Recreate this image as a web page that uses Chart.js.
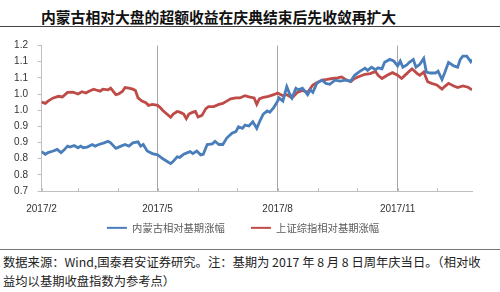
<!DOCTYPE html>
<html>
<head>
<meta charset="utf-8">
<script src="https://cdn.jsdelivr.net/npm/chart.js@4.4.0/dist/chart.umd.min.js"></script>
<style>
  body { margin: 0; width: 500px; height: 292px; background: #fff; position: relative; overflow: hidden; font-family: "Noto Sans CJK SC", sans-serif; }
  #title { position: absolute; left: 41px; top: 9px; font-size: 14.8px; line-height: 15px; font-weight: bold; color: #111; white-space: nowrap; }
  .rule { position: absolute; left: 0; width: 500px; }
  #chartBox { position: absolute; left: 0; top: 30px; width: 500px; height: 213px; }
  #note { position: absolute; left: 3px; top: 253px; font-size: 12.3px; line-height: 18.5px; color: #222; white-space: nowrap; }
</style>
</head>
<body>
<div id="title">内蒙古相对大盘的超额收益在庆典结束后先收敛再扩大</div>
<div class="rule" style="top:26px;height:1.4px;background:#444;"></div>
<div id="chartBox"><canvas id="chart"></canvas></div>
<div class="rule" style="top:248.5px;height:1px;background:#777;"></div>
<div id="note">数据来源：Wind,国泰君安证券研究。注：基期为 2017 年 8 月 8 日周年庆当日。（相对收<br>益均以基期收盘指数为参考点）</div>
<script>
// x values are days counted from 2017/2/1
const monthDays = [0, 28, 59, 89, 120, 150, 181, 212, 242, 273, 303];
const majorDays = [0, 89, 181, 273];
const majorLabels = ["2017/2", "2017/5", "2017/8", "2017/11"];
const yTicks = [0.75, 0.8, 0.85, 0.9, 0.95, 1.0, 1.05, 1.1, 1.15, 1.2];
const yTickLabels = ["0.7", "0.8", "0.8", "0.9", "0.9", "1.0", "1.0", "1.1", "1.1", "1.2"];

const mengDays = [0,3,5,9,12,15,17,20,22,25,28,30,32,35,39,41,44,48,51,53,57,61,64,67,70,74,76,78,81,85,
  89,91,93,97,99,101,104,106,109,112,114,116,119,122,124,127,131,133,136,139,142,146,149,151,154,156,159,162,165,168,
  170,173,175,178,181,182,185,186,188,190,192,195,197,200,202,204,206,208,211,215,218,221,225,229,233,237,240,244,248,250,
  253,256,258,261,263,267,270,273,275,277,280,282,285,287,290,293,295,298,302,304,307,309,312,316,319,321,323,326,329,330];
const mengValues = [0.872,0.864,0.869,0.874,0.879,0.869,0.876,0.889,0.886,0.891,0.884,0.889,0.884,0.886,0.894,0.889,0.894,0.899,0.904,0.899,0.882,0.889,0.894,0.889,0.899,0.902,0.889,0.894,0.874,0.866,
  0.862,0.856,0.850,0.840,0.835,0.842,0.856,0.854,0.864,0.869,0.872,0.866,0.874,0.862,0.864,0.894,0.896,0.904,0.894,0.894,0.914,0.929,0.934,0.949,0.944,0.954,0.951,0.964,0.944,0.972,
  0.988,0.998,0.994,1.008,1.028,1.038,1.028,1.043,1.073,1.053,1.038,1.068,1.063,1.068,1.058,1.048,1.063,1.055,1.083,1.093,1.083,1.080,1.093,1.090,1.093,1.090,1.108,1.120,1.130,1.123,
  1.133,1.125,1.131,1.128,1.148,1.157,1.152,1.137,1.152,1.133,1.140,1.148,1.157,1.133,1.142,1.160,1.118,1.115,1.115,1.121,1.095,1.115,1.148,1.137,1.133,1.157,1.167,1.167,1.150,1.157];

const shDays = [0,3,5,9,13,16,18,20,24,26,28,31,34,36,40,43,45,47,51,53,57,59,62,64,67,70,72,74,77,80,
  82,85,89,91,93,97,99,101,104,106,109,111,113,116,118,120,123,126,128,132,136,139,142,145,149,152,156,159,163,165,
  167,170,174,178,181,185,188,192,196,200,204,208,211,215,219,223,227,230,234,237,240,244,248,252,256,258,261,265,269,273,
  276,280,284,288,290,293,296,299,303,307,309,312,316,319,323,327,330];
const shValues = [1.025,1.021,1.028,1.038,1.043,1.041,1.048,1.055,1.056,1.053,1.050,1.057,1.053,1.058,1.065,1.061,1.059,1.065,1.063,1.068,1.048,1.050,1.058,1.070,1.068,1.065,1.061,1.038,1.028,1.023,
  1.015,1.018,1.015,1.008,0.999,0.985,0.978,0.988,0.996,0.994,0.988,0.974,0.988,0.994,0.996,0.979,0.984,1.005,1.011,1.011,1.018,1.021,1.028,1.035,1.038,1.038,1.045,1.041,1.038,1.018,
  1.035,1.040,1.043,1.048,1.053,1.045,1.048,1.038,1.055,1.061,1.055,1.078,1.085,1.093,1.095,1.098,1.100,1.103,1.093,1.088,1.098,1.105,1.111,1.113,1.120,1.108,1.098,1.108,1.116,1.108,
  1.098,1.113,1.128,1.113,1.108,1.118,1.088,1.083,1.078,1.065,1.073,1.083,1.075,1.070,1.075,1.071,1.063];

const toPoints = (xs, ys) => xs.map((x, i) => ({ x: x, y: ys[i] }));

// small inward month ticks on the x axis
const monthTickPlugin = {
  id: "monthTicks",
  afterDraw(chart) {
    const xScale = chart.scales.x;
    const ctx = chart.ctx;
    const bottom = chart.chartArea.bottom;
    ctx.save();
    ctx.strokeStyle = "#bfbfbf";
    ctx.lineWidth = 1;
    monthDays.forEach((d) => {
      const px = Math.round(xScale.getPixelForValue(d)) + 0.5;
      ctx.beginPath();
      ctx.moveTo(px, bottom);
      ctx.lineTo(px, bottom - 3);
      ctx.stroke();
    });
    ctx.restore();
  }
};

new Chart(document.getElementById("chart"), {
  type: "line",
  data: {
    datasets: [
      {
        label: "内蒙古相对基期涨幅",
        data: toPoints(mengDays, mengValues),
        borderColor: "#4a7ebb",
        backgroundColor: "#4a7ebb",
        borderWidth: 2.8,
        pointRadius: 0,
        tension: 0
      },
      {
        label: "上证综指相对基期涨幅",
        data: toPoints(shDays, shValues),
        borderColor: "#be4b48",
        backgroundColor: "#be4b48",
        borderWidth: 2.8,
        pointRadius: 0,
        tension: 0
      }
    ]
  },
  options: {
    responsive: true,
    maintainAspectRatio: false,
    animation: false,
    layout: { padding: { top: 10.7, right: 28, left: 14, bottom: 0 } },
    plugins: {
      tooltip: { enabled: false },
      legend: {
        position: "bottom",
        labels: {
          boxWidth: 20,
          boxHeight: 2,
          padding: 5.6,
          color: "#595959",
          font: { family: "Noto Sans CJK SC", size: 10.3 },
          generateLabels: (chart) => {
            const items = Chart.defaults.plugins.legend.labels.generateLabels(chart);
            // wider gap between the two legend entries
            items[0].text = items[0].text + "\u3000\u3000";
            items.forEach((item) => { item.lineWidth = 0; });
            return items;
          }
        }
      }
    },
    scales: {
      x: {
        type: "linear",
        min: 0,
        max: 330,
        afterBuildTicks: (scale) => { scale.ticks = monthDays.map((v) => ({ value: v })); },
        afterFit: (scale) => { scale.height = 26; },
        border: { display: true, color: "#bfbfbf", width: 1 },
        grid: {
          drawTicks: false,
          color: (ctx) => (ctx.tick && majorDays.indexOf(ctx.tick.value) > 0 ? "#a6a6a6" : "rgba(0,0,0,0)"),
          lineWidth: 1
        },
        ticks: {
          autoSkip: false,
          maxRotation: 0,
          padding: 12.5,
          color: "#333",
          font: { family: "Liberation Sans", size: 10 },
          callback: (value) => {
            const idx = majorDays.indexOf(value);
            return idx >= 0 ? majorLabels[idx] : "";
          }
        }
      },
      y: {
        min: 0.75,
        max: 1.2,
        afterBuildTicks: (scale) => { scale.ticks = yTicks.map((v) => ({ value: v })); },
        afterFit: (scale) => { scale.width = 27.5; },
        border: { display: true, color: "#bfbfbf", width: 1 },
        grid: { drawOnChartArea: false, drawTicks: true, tickLength: 4, color: "#bfbfbf" },
        ticks: {
          padding: 9.5,
          color: "#333",
          font: { family: "Liberation Sans", size: 10 },
          callback: (value, index) => yTickLabels[index]
        }
      }
    }
  },
  plugins: [monthTickPlugin]
});
</script>
</body>
</html>
